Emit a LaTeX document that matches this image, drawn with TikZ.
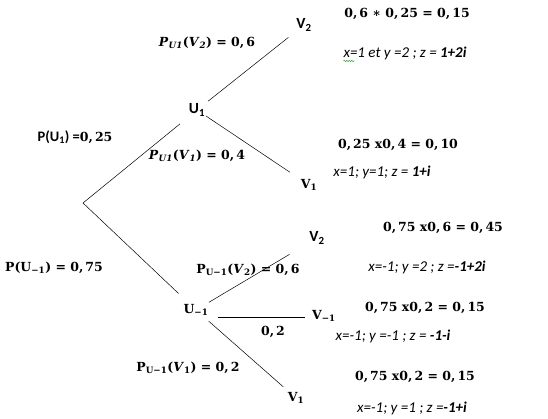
\documentclass[tikz,border=0pt]{standalone}
\usepackage{fontspec}
\usetikzlibrary{calc,decorations.pathmorphing}
\newfontfamily\calfont{Carlito}
\newfontfamily\dvs{DejaVu Serif}
\definecolor{spellgreen}{RGB}{60,170,60}
\begin{document}
\begin{tikzpicture}[x=1pt,y=-1pt,
  every node/.style={inner sep=0pt,outer sep=0pt},
  mth/.style={font=\dvs\bfseries\fontsize{12.5}{15}\selectfont},
  sansnode/.style={font=\calfont\bfseries\fontsize{15.5}{17}\selectfont},
  small/.style={font=\calfont\itshape\fontsize{15}{17}\selectfont},
  br/.style={line width=0.5pt},
  squiggle/.style={draw=spellgreen,line width=0.5pt,decorate,decoration={snake,amplitude=0.8pt,segment length=2.5pt}}]
\useasboundingbox (0,0) rectangle (548,419);
% tree nodes
\coordinate (root) at (83,203);
\node[sansnode] (U1) at (197,110) {U\textsubscript{1}};
\node[sansnode] (V2a) at (304,25) {V\textsubscript{2}};
\node[mth] (V1a) at (309,185) {V\textsubscript{1}};
\node[mth] (Um) at (196,310) {U\textsubscript{−1}};
\node[sansnode] (V2b) at (317,238) {V\textsubscript{2}};
\node[mth] (Vm) at (324,316) {V\textsubscript{−1}};
\node[mth] (V1b) at (296,398) {V\textsubscript{1}};
% branches
\draw[br,shorten >=22pt] (root) -- (U1.center);
\draw[br,shorten >=24pt] (root) -- (Um.center);
\draw[br,shorten <=14pt,shorten >=20pt] (U1.center) -- (V2a.center);
\draw[br,shorten <=11pt,shorten >=23pt] (U1.center) -- (V1a.center);
\draw[br,shorten <=15pt,shorten >=32pt] (Um.center) -- (V2b.center);
\draw[br] ($(Um.center)+(22,7)$) -- ($(Vm.center)+(-19,1)$);
\draw[br,shorten <=17pt,shorten >=17pt] (Um.center) -- (V1b.center);
% probability labels
\node[mth] (pv2a) at (207,43) {\textit{P}\textsubscript{\textit{U1}}(\textit{V}\textsubscript{\textit{2}}) = 0,\,6};
\node (pu1) at (75,137) {\calfont\bfseries\fontsize{14.5}{16}\selectfont P(U\textsubscript{1}) =\dvs\fontsize{12.5}{15}\selectfont 0,\,25};
\node[mth] (pv1a) at (197,156) {\textit{P}\textsubscript{\textit{U1}}(\textit{V}\textsubscript{\textit{1}}) = 0,\,4};
\node[mth] (pum) at (54,268) {P(U\textsubscript{−1}) = 0,\,75};
\node[mth] (pv2b) at (248,270) {P\textsubscript{U−1}(\textit{V}\textsubscript{2}) = 0,\,6};
\node[mth] (p02) at (273,332) {0,\,2};
\node[mth] (pv1b) at (188,368) {P\textsubscript{U−1}(\textit{V}\textsubscript{1}) = 0,\,2};
% products
\node[mth] (r1) at (407,14) {0,\,6 ∗ 0,\,25 = 0,\,15};
\node[small] (z1) at (405,53) {x=1 et y =2 ; z = \textbf{1+2i}};
\draw[squiggle] ($(z1.south west)+(0,1.5)$) -- ++(11,0);
\node[mth] (r2) at (398,145) {0,\,25 x0,\,4 = 0,\,10};
\node[small] (z2) at (382,172) {x=1; y=1; z = \textbf{1+i}};
\node[mth] (r3) at (443,228) {0,\,75 x0,\,6 = 0,\,45};
\node[small] (z3) at (427,267) {x=-1; y =2 ; z =\textbf{-1+2i}};
\node[mth] (r4) at (425,308) {0,\,75 x0,\,2 = 0,\,15};
\node[small] (z4) at (393,336) {x=-1; y =-1 ; z = \textbf{-1-i}};
\node[mth] (r5) at (415,377) {0,\,75 x0,\,2 = 0,\,15};
\node[small] (z5) at (412,408) {x=-1; y =1 ; z =\textbf{-1+i}};
\end{tikzpicture}
\end{document}
